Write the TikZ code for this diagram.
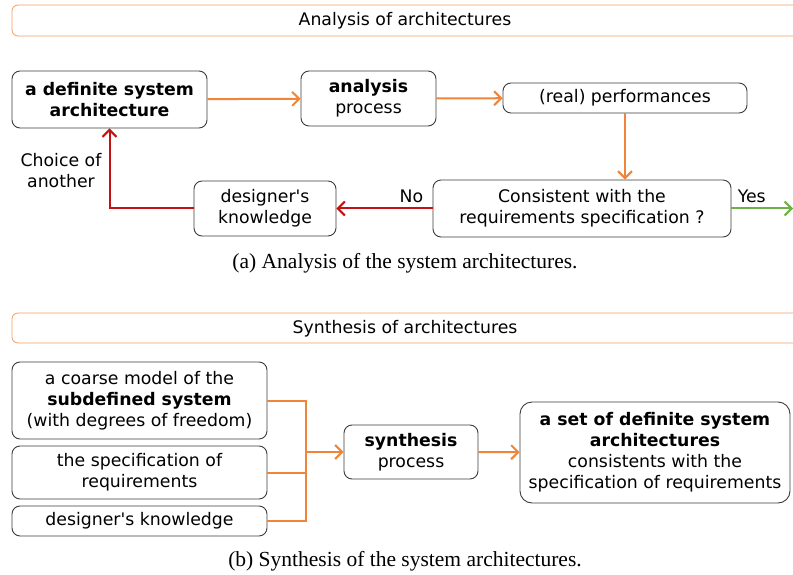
\documentclass[tikz,border=0pt]{standalone}
\usepackage{fontspec}
\setmainfont{DejaVu Sans}[Ligatures=TeXOff]
\newfontfamily\capfont{Liberation Serif}
\usetikzlibrary{arrows.meta}

\definecolor{flow}{RGB}{240,133,58}
\definecolor{back}{RGB}{196,18,18}
\definecolor{okay}{RGB}{108,176,70}
\definecolor{edge}{RGB}{60,60,60}

\tikzset{
  block/.style={draw=edge, rounded corners=8pt, line width=0.9pt, align=center,
    inner sep=0pt, font=\fontsize{17.3}{21}\selectfont},
  titlebar/.style={draw=flow!80, rounded corners=6pt, line width=0.8pt},
  label/.style={align=center, font=\fontsize{17.3}{21}\selectfont},
  caption/.style={font=\capfont\fontsize{21.5}{24}\selectfont},
  flowline/.style={draw=flow, line width=2pt},
  backline/.style={draw=back, line width=2pt},
  okline/.style={draw=okay, line width=2pt}
}

\begin{document}
\begin{tikzpicture}[x=1pt, y=-1pt, >={Straight Barb[length=7pt,width=14pt]}]
    \useasboundingbox (0,0) rectangle (793,575);

    % (a) analysis
    \draw[titlebar] (12,5) rectangle (810,36);
    \node[label] (titleA) at (405,20.5) {Analysis of architectures};

    \node[block, minimum width=195pt, minimum height=57pt] (arch) at (109.5,99.5)
        {\bfseries a definite system\\\bfseries architecture};
    \node[block, minimum width=135pt, minimum height=55pt] (analysis) at (368.5,98.5)
        {\bfseries analysis\\process};
    \node[block, minimum width=244pt, minimum height=30pt] (perf) at (625,98)
        {(real) performances};
    \node[block, minimum width=298pt, minimum height=57pt] (check) at (582,208.5)
        {Consistent with the\\requirements specification ?};
    \node[block, minimum width=142pt, minimum height=55pt] (knowA) at (265,208.5)
        {designer's\\knowledge};
    \coordinate (out) at (793,208.5);

    \draw[flowline, ->] (arch) -- (analysis);
    \draw[flowline, ->] (analysis) -- (perf);
    \draw[flowline, ->] (perf.south) -- (perf.south |- check.north);
    \draw[backline, ->] (check) -- node[label, above, pos=0.22, yshift=1pt, black] (no) {No} (knowA);
    \draw[backline, ->] (knowA.west) -| (arch.south);
    \draw[okline, ->] (check) -- node[label, above, pos=0.33, yshift=1pt, black] (yes) {Yes} (out);
    \node[label] (choice) at (61,171) {Choice of\\another};

    \node[caption] (capA) at (405,263.5) {(a) Analysis of the system architectures.};

    % (b) synthesis
    \draw[titlebar] (12,313) rectangle (810,343);
    \node[label] (titleB) at (405,328.5) {Synthesis of architectures};

    \node[block, minimum width=255pt, minimum height=77pt] (coarse) at (139.5,400.5)
        {a coarse model of the\\\bfseries subdefined system\\(with degrees of freedom)};
    \node[block, minimum width=255pt, minimum height=53pt] (spec) at (139.5,472.5)
        {the specification of\\requirements};
    \node[block, minimum width=255pt, minimum height=30pt] (knowB) at (139.5,521)
        {designer's knowledge};
    \node[block, minimum width=134pt, minimum height=54pt] (synth) at (411,452)
        {\bfseries synthesis\\process};
    \node[block, minimum width=270pt, minimum height=101pt, rounded corners=12pt] (result) at (655,452.5)
        {\bfseries a set of definite system\\\bfseries architectures\\consistents with the\\specification of requirements};
    \coordinate (join) at (306,452);

    \draw[flowline] (coarse.east) -| (join);
    \draw[flowline] (spec.east) -| (join);
    \draw[flowline] (knowB.east) -| (join);
    \draw[flowline, ->] (join) -- (synth);
    \draw[flowline, ->] (synth) -- (result);

    \node[caption] (capB) at (405,561) {(b) Synthesis of the system architectures.};
  \end{tikzpicture}
\end{document}
